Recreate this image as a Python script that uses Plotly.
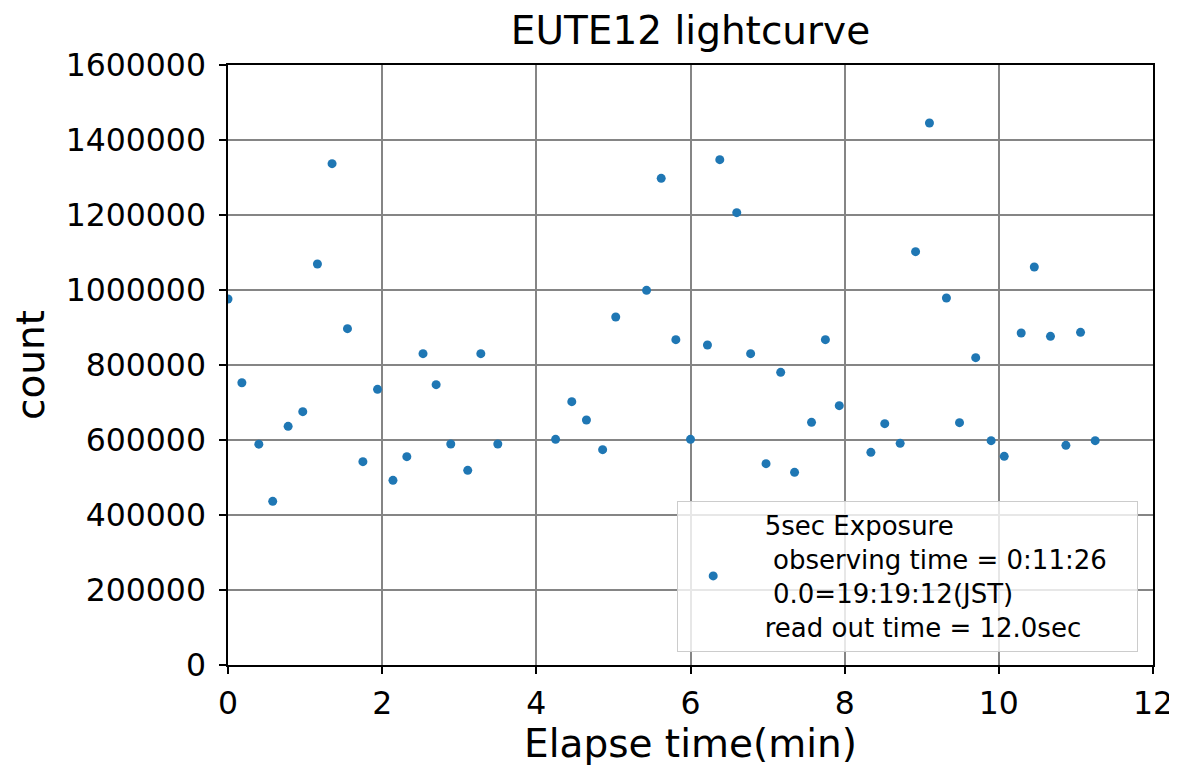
import plotly.graph_objects as go

elapse_min = [0.00, 0.18, 0.40, 0.58, 0.78, 0.97, 1.16, 1.35, 1.55, 1.75, 1.94,
              2.14, 2.32, 2.53, 2.70, 2.89, 3.11, 3.28, 3.50,
              4.25, 4.46, 4.65, 4.86, 5.03, 5.43, 5.62, 5.81, 6.00, 6.22, 6.38,
              6.60, 6.78, 6.98, 7.17, 7.35, 7.57, 7.75, 7.93,
              8.34, 8.52, 8.72, 8.92, 9.10, 9.32, 9.49, 9.70, 9.90, 10.07,
              10.29, 10.46, 10.67, 10.87, 11.06, 11.25]
counts = [976000, 752800, 589000, 436500, 636500, 675500, 1069300, 1336900, 896900, 542200, 735100,
          492500, 555600, 830200, 747500, 589300, 519100, 830200, 589300,
          601800, 702200, 653300, 574200, 928000, 999100, 1297700, 867600, 601800, 853300, 1347600,
          1206300, 830200, 536900, 780400, 513800, 647100, 867600, 691600,
          567100, 643600, 591100, 1102200, 1445300, 978700, 646300, 819600, 598200, 556400,
          885300, 1061300, 876500, 585800, 887100, 598200]

x_ticks = [0, 2, 4, 6, 8, 10, 12]
y_ticks = [0, 200000, 400000, 600000, 800000, 1000000, 1200000, 1400000, 1600000]

legend_lines = ["5sec Exposure",
                " observing time = 0:11:26",
                " 0.0=19:19:12(JST)",
                "read out time = 12.0sec"]
NB = "\u00a0"
_longest = max(len(ln) for ln in legend_lines)
legend_label = "<br>".join(
    NB * 2 + ln.replace(" ", NB) + (NB * 3 if len(ln) == _longest else "")
    for ln in legend_lines)

FONT = "DejaVu Sans"

# The page body has an 8px default margin; the figure is sized to fit the window.
W, H = 1169, 759

fig = go.Figure()
fig.add_trace(go.Scatter(
    x=elapse_min, y=counts, mode="markers", name=legend_label,
    marker=dict(color="#1f77b4", size=9, line=dict(width=0)),
    showlegend=True,
))

axis_common = dict(
    showline=True, linecolor="black", linewidth=1.5, mirror=True,
    showgrid=True, gridcolor="#858585", gridwidth=1.5,
    ticks="outside", ticklen=7, tickwidth=1.5, tickcolor="black",
    tickfont=dict(family=FONT, size=31.5, color="black"),
    zeroline=False,
)

fig.update_layout(
    width=W, height=H, autosize=False,
    margin=dict(l=220, r=24, t=57, b=102, autoexpand=False),
    paper_bgcolor="white", plot_bgcolor="white",
    font=dict(family=FONT, color="black"),
    title=dict(text="EUTE12 lightcurve", x=0.5, xref="paper", xanchor="center",
               y=1 - 22 / H, yref="container", yanchor="middle",
               font=dict(family=FONT, size=39, color="black")),
    xaxis=dict(range=[0, 12], tickvals=x_ticks, ticktext=[str(v) for v in x_ticks],
               title=dict(text="Elapse time(min)", font=dict(family=FONT, size=39), standoff=10),
               ticklabelstandoff=2,
               **axis_common),
    yaxis=dict(range=[0, 1600000], tickvals=y_ticks, ticktext=[str(v) for v in y_ticks],
               title=dict(text="count", font=dict(family=FONT, size=39), standoff=17),
               ticklabelstandoff=7,
               **axis_common),
    legend=dict(x=0.984, y=0.022, xanchor="right", yanchor="bottom",
                bgcolor="rgba(255,255,255,0.8)", bordercolor="#cccccc", borderwidth=1,
                font=dict(family=FONT, size=26, color="black"),
                itemwidth=60, valign="middle"),
)

fig.write_html("out.html")
